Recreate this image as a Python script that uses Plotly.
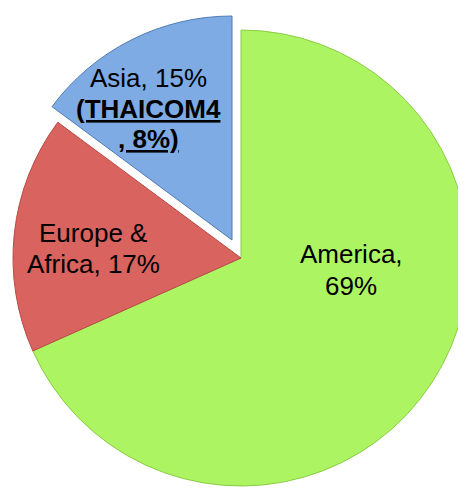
import plotly.graph_objects as go

# ---- data ----
categories = ["America", "Europe & Africa", "Asia"]
shares = [69, 17, 15]                 # percent, as labelled
thaicom4_share = 8                    # percent, note on the Asia slice
colors = ["#ADF463", "#D9635F", "#7EABE3"]
edge_colors = ["#8CCB45", "#B84A47", "#4F7DB8"]
pulled = "Asia"

W, H = 466, 500
PAGE_OFF = 8  # default body margin of the html page


def dom(cx, cy, r):
    # cx, cy in layout pixels (from top-left); r radius in pixels
    return dict(x=[(cx - r) / W, (cx + r) / W],
                y=[(H - cy - r) / H, (H - cy + r) / H])


transparent = "rgba(0,0,0,0)"
main_colors = [col if c != pulled else transparent for c, col in zip(categories, colors)]
main_edges = [col if c != pulled else transparent for c, col in zip(categories, edge_colors)]
pull_colors = [col if c == pulled else transparent for c, col in zip(categories, colors)]
pull_edges = [col if c == pulled else transparent for c, col in zip(categories, edge_colors)]

common = dict(
    labels=categories, values=shares, sort=False, direction="clockwise",
    rotation=0, textinfo="none", showlegend=False, hoverinfo="label+value",
)

fig = go.Figure()
fig.add_trace(go.Pie(domain=dom(233, 250, 228),
                     marker=dict(colors=main_colors, line=dict(width=1, color=main_edges)),
                     **common))
fig.add_trace(go.Pie(domain=dom(224, 232, 224),
                     marker=dict(colors=pull_colors, line=dict(width=1, color=pull_edges)),
                     **common))

# ---- slice labels (text built from the data arrays) ----
s = dict(zip(categories, shares))
label_lines = {
    "America": ["America,", f"{s['America']}%"],
    "Europe & Africa": ["Europe &", f"Africa, {s['Europe & Africa']}%"],
    "Asia": [f"Asia, {s['Asia']}%", "<b><u>(THAICOM4</u></b>", f"<b><u>, {thaicom4_share}%)</u></b>"],
}
label_pos = {  # (page x centre, page y of each line centre)
    "America": (351, [254, 286]),
    "Europe & Africa": (93, [233, 264]),
    "Asia": (148, [78, 109, 139]),
}
font = dict(family="Liberation Sans, Arial, sans-serif", size=26, color="black")
for cat in categories:
    px, ys = label_pos[cat]
    for line, py in zip(label_lines[cat], ys):
        fig.add_annotation(text=line, xref="paper", yref="paper",
                           x=(px - PAGE_OFF) / W, y=1 - (py - PAGE_OFF) / H,
                           xanchor="center", yanchor="middle", showarrow=False,
                           font=font)

fig.update_layout(width=W, height=H, margin=dict(l=0, r=0, t=0, b=0),
                  paper_bgcolor="white", plot_bgcolor="white")

fig.write_html("out.html")
